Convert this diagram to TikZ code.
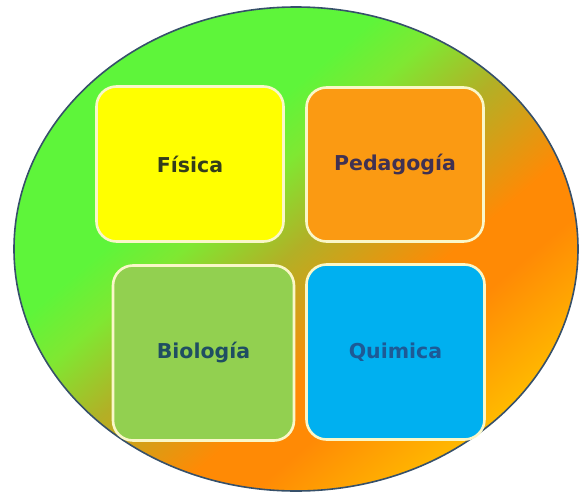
\documentclass[tikz,border=0pt]{standalone}
\usepackage{fontspec}
\setmainfont{DejaVu Sans}
\definecolor{gA}{HTML}{5EF53A}
\definecolor{gA2}{HTML}{7FE832}
\definecolor{gB}{HTML}{B2B026}
\definecolor{gC}{HTML}{FF8A05}
\definecolor{gD}{HTML}{FFBA00}
\definecolor{ellborder}{HTML}{36506A}
\definecolor{boxborder}{HTML}{FAF7C8}
\definecolor{fisfill}{HTML}{FFFF00}
\definecolor{pedfill}{HTML}{FB9A12}
\definecolor{biofill}{HTML}{92D050}
\definecolor{quifill}{HTML}{00B0F0}
\definecolor{fistext}{HTML}{333D1C}
\definecolor{pedtext}{HTML}{403152}
\definecolor{biotext}{HTML}{1F4E62}
\definecolor{quitext}{HTML}{1D5A96}
\pgfdeclarehorizontalshading{ellshade}{100bp}{color(0bp)=(gA); color(25bp)=(gA); color(38bp)=(gA); color(43bp)=(gA2); color(50bp)=(gB); color(60bp)=(gC); color(65bp)=(gC); color(75bp)=(gD); color(100bp)=(gD)}
\tikzset{
  subjbox/.style={draw=boxborder, line width=2.6pt, rounded corners=20pt,
    inner sep=0pt, font=\bfseries\fontsize{20.5}{24}\selectfont}
}
\begin{document}
\begin{tikzpicture}[x=1pt,y=-1pt]
\useasboundingbox (0,0) rectangle (579,493);
\shade[shading=ellshade, shading angle=-49.5, draw=ellborder, line width=1.6pt]
  (296,249) ellipse [x radius=282pt, y radius=242pt];
\node[subjbox, fill=fisfill, text=fistext, minimum width=187pt, minimum height=155pt] (fis) at (190,164) {Física};
\node[subjbox, fill=pedfill, text=pedtext, minimum width=177pt, minimum height=154pt] (ped) at (395,164.5) {Pedagogía};
\node[subjbox, fill=biofill, text=biotext, minimum width=181pt, minimum height=175pt] (bio) at (203.5,353) {Biología};
\node[subjbox, fill=quifill, text=quitext, minimum width=178pt, minimum height=175pt] (qui) at (395.5,352) {Quimica};
\end{tikzpicture}
\end{document}
